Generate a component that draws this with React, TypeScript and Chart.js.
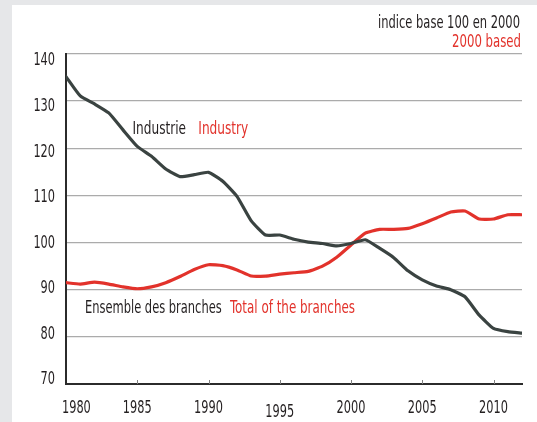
import React, { useEffect, useRef } from "react";
import { Chart, registerables } from "chart.js";

Chart.register(...registerables);

const years = [1980, 1981, 1982, 1983, 1984, 1985, 1986, 1987, 1988, 1989, 1990, 1991, 1992, 1993, 1994, 1995, 1996, 1997, 1998, 1999, 2000, 2001, 2002, 2003, 2004, 2005, 2006, 2007, 2008, 2009, 2010, 2011, 2012];
const industrie = [135.2, 131.1, 129.4, 127.5, 123.9, 120.4, 118.3, 115.6, 114.0, 114.4, 114.9, 113.0, 109.8, 104.6, 101.6, 101.6, 100.7, 100.1, 99.8, 99.3, 99.8, 100.6, 98.8, 96.8, 94.0, 92.1, 90.8, 90.0, 88.5, 84.6, 81.8, 81.1, 80.8];
const ensemble = [91.5, 91.2, 91.6, 91.2, 90.6, 90.2, 90.6, 91.5, 92.8, 94.3, 95.3, 95.1, 94.2, 92.9, 92.9, 93.3, 93.6, 93.9, 95.0, 96.9, 99.5, 102.0, 102.8, 102.8, 103.0, 104.0, 105.2, 106.5, 106.7, 105.0, 105.0, 105.9, 105.9];
const yTicks = [70, 80, 90, 100, 110, 120, 130, 140];
const xTicks = [1980, 1985, 1990, 1995, 2000, 2005, 2010];

const DARK = "#3a4341";
const RED = "#e2322b";
const TEXT = "#231f20";
const FONT = '"Liberation Sans Narrow", "DejaVu Sans Condensed", sans-serif';
const SQUEEZE = 0.74;

function drawFit(ctx: CanvasRenderingContext2D, text: string, x: number, y: number, width: number, size: number, color: string, align: "left" | "right") {
  ctx.save();
  ctx.font = `${size}px ${FONT}`;
  ctx.fillStyle = color;
  ctx.textBaseline = "alphabetic";
  const w = ctx.measureText(text).width;
  const s = width / w;
  const left = align === "left" ? x : x - width;
  ctx.translate(left, y);
  ctx.scale(s, 1);
  ctx.textAlign = "left";
  ctx.fillText(text, 0, 0);
  ctx.restore();
}

function drawSqueezed(ctx: CanvasRenderingContext2D, text: string, x: number, y: number, size: number, color: string, align: "left" | "right" | "center", baseline: CanvasTextBaseline) {
  ctx.save();
  ctx.font = `${size}px ${FONT}`;
  ctx.fillStyle = color;
  ctx.textBaseline = baseline;
  ctx.textAlign = align;
  ctx.translate(x, y);
  ctx.scale(SQUEEZE, 1);
  ctx.fillText(text, 0, 0);
  ctx.restore();
}

const decorPlugin = {
  id: "decor",
  beforeDraw(chart: any) {
    const ctx = chart.ctx as CanvasRenderingContext2D;
    ctx.save();
    ctx.fillStyle = "#e6e7e9";
    ctx.fillRect(0, 0, chart.width, chart.height);
    ctx.fillStyle = "#ffffff";
    ctx.fillRect(12, 5, chart.width - 12, chart.height - 5);
    ctx.restore();
  },
  afterDraw(chart: any) {
    const ctx = chart.ctx as CanvasRenderingContext2D;
    const xs = chart.scales.x;
    const yl = chart.scales.yl;
    const area = chart.chartArea;
    ctx.save();
    ctx.strokeStyle = "#808080";
    ctx.lineWidth = 1;
    xTicks.forEach((v) => {
      if (v === xTicks[0]) return;
      const px = Math.round(xs.getPixelForValue(v)) + 0.5;
      ctx.beginPath();
      ctx.moveTo(px, area.bottom);
      ctx.lineTo(px, area.bottom - 4);
      ctx.stroke();
    });
    ctx.restore();
    // y tick labels
    yTicks.forEach((v) => {
      drawSqueezed(ctx, String(v), area.left - 11, yl.getPixelForValue(v), 17, TEXT, "right", "middle");
    });
    // x tick labels
    xTicks.forEach((v, i) => {
      const px = xs.getPixelForValue(v);
      const dy = v === 1995 ? 4 : 0;
      if (i === 0) {
        drawSqueezed(ctx, String(v), px - 4, area.bottom + 29 + dy, 17, TEXT, "left", "alphabetic");
      } else {
        drawSqueezed(ctx, String(v), px, area.bottom + 29 + dy, 17, TEXT, "center", "alphabetic");
      }
    });
    drawFit(ctx, "indice base 100 en 2000", 520, 28, 142, 18, TEXT, "right");
    drawFit(ctx, "2000 based", 521, 47, 69, 18, RED, "right");
    drawFit(ctx, "Industrie", 132.5, 134, 53.5, 18, TEXT, "left");
    drawFit(ctx, "Industry", 198.3, 134, 50, 18, RED, "left");
    drawFit(ctx, "Ensemble des branches", 85, 312.5, 136.7, 18, TEXT, "left");
    drawFit(ctx, "Total of the branches", 230, 312.5, 125, 18, RED, "left");
  },
};

export default function App() {
  const ref = useRef<HTMLCanvasElement | null>(null);
  useEffect(() => {
    document.body.style.margin = "0";
    const canvas = ref.current!;
    const chart = new Chart(canvas, {
      type: "line",
      data: {
        datasets: [
          {
            label: "Industrie",
            data: years.map((y, i) => ({ x: y, y: industrie[i] })),
            borderColor: DARK,
            borderWidth: 3.2,
            pointRadius: 0,
            tension: 0.15,
            borderJoinStyle: "round",
            borderCapStyle: "round",
            yAxisID: "y",
          },
          {
            label: "Ensemble des branches",
            data: years.map((y, i) => ({ x: y, y: ensemble[i] })),
            borderColor: RED,
            borderWidth: 3.2,
            pointRadius: 0,
            tension: 0.15,
            borderJoinStyle: "round",
            borderCapStyle: "round",
            yAxisID: "y",
          },
        ],
      },
      options: {
        responsive: false,
        animation: false,
        events: [],
        layout: { padding: { top: 54, right: 15, left: 0, bottom: 0 } },
        plugins: { legend: { display: false }, tooltip: { enabled: false }, title: { display: false } },
        scales: {
          x: {
            type: "linear",
            min: 1980,
            max: 2012,
            afterBuildTicks: (s: any) => {
              s.ticks = xTicks.map((v) => ({ value: v }));
            },
            afterFit: (s: any) => {
              s.height = 38;
            },
            grid: { display: false, drawTicks: false },
            border: { display: true, color: "#2b2b2b", width: 2 },
            ticks: { display: false },
          },
          y: {
            type: "linear",
            position: "left",
            weight: 0,
            min: 70,
            max: 140,
            afterBuildTicks: (s: any) => {
              s.ticks = yTicks.map((v) => ({ value: v }));
            },
            afterFit: (s: any) => {
              s.width = 0;
            },
            grid: { color: "#ababab", lineWidth: 1.3, drawTicks: false },
            border: { display: true, color: "#2b2b2b", width: 2 },
            ticks: { display: false },
          },
          yl: {
            type: "linear",
            position: "left",
            weight: 1,
            min: 69.12,
            max: 141.54,
            afterBuildTicks: (s: any) => {
              s.ticks = yTicks.map((v) => ({ value: v }));
            },
            afterFit: (s: any) => {
              s.width = 66;
            },
            grid: { display: false, drawTicks: false },
            border: { display: false },
            ticks: { display: false },
          },
        },
      } as any,
      plugins: [decorPlugin],
    });
    return () => chart.destroy();
  }, []);
  return (
    <div style={{ width: 537, height: 422 }}>
      <canvas ref={ref} width={537} height={422} style={{ display: "block", width: 537, height: 422 }} />
    </div>
  );
}
